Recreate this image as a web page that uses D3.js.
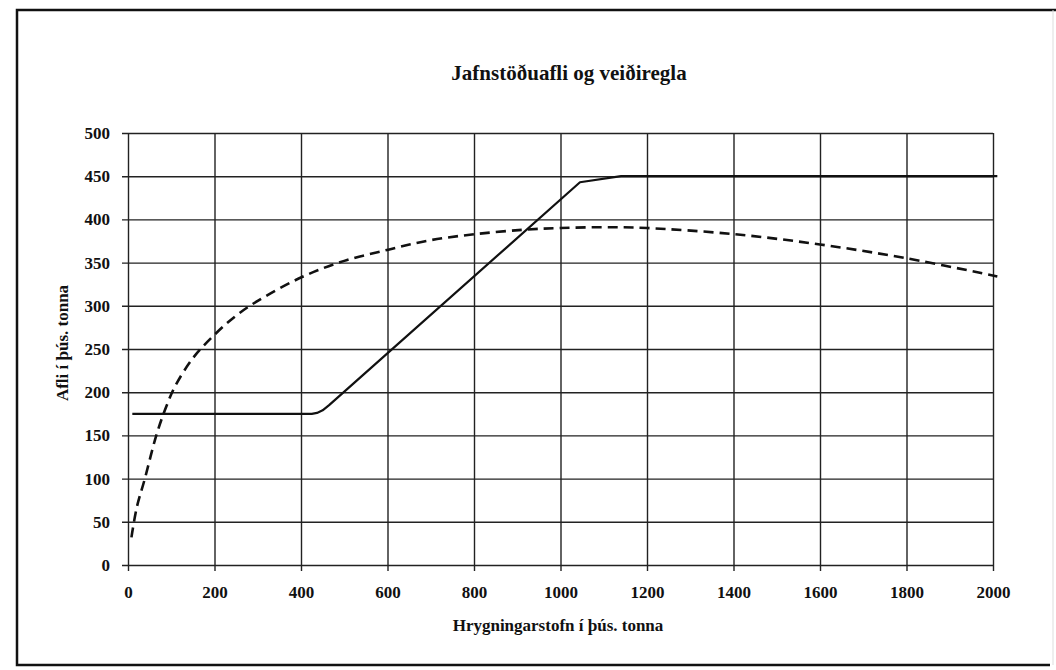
<!DOCTYPE html>
<html>
<head>
<meta charset="utf-8">
<script src="https://cdn.jsdelivr.net/npm/d3@7"></script>
<style>
  html, body { margin: 0; padding: 0; background: #fff; }
  svg { display: block; }
  text { font-family: "Liberation Serif", "Times New Roman", serif; font-weight: bold; fill: #111; }
</style>
</head>
<body>
<svg id="chart" width="1056" height="670"></svg>
<script>
// ---- data ----
const title = "Jafnstöðuafli og veiðiregla";
const xTitle = "Hrygningarstofn í þús. tonna";
const yTitle = "Afli í þús. tonna";
const xTicks = [0, 200, 400, 600, 800, 1000, 1200, 1400, 1600, 1800, 2000];
const yTicks = [0, 50, 100, 150, 200, 250, 300, 350, 400, 450, 500];

// harvest control rule (solid)
const ruleX = [10, 425, 437, 450, 465, 1045, 1140, 2010];
const ruleY = [175, 175, 176, 179, 185, 443, 450, 450];

// equilibrium catch (dashed)
const eqX = [8, 20, 39, 66, 89, 109, 151, 201, 251, 301, 401, 500, 602, 700, 804, 913, 1000, 1100, 1200, 1400, 1600, 1800, 2010];
const eqY = [32, 66, 100, 151, 184, 207, 240, 267, 289, 306, 333, 352, 365, 376, 383, 388, 390, 391, 390, 383, 371, 355, 334];

// ---- layout ----
const svg = d3.select("#chart");
const x = d3.scaleLinear().domain([0, 2000]).range([128, 993]);
const y = d3.scaleLinear().domain([0, 500]).range([565, 133]);
const ext = 6;

// outer frame
svg.append("path")
  .attr("d", "M1056,10 L17,10 L17,665 L1050,665")
  .attr("fill", "none").attr("stroke", "#111").attr("stroke-width", 2.5);
svg.append("line").attr("x1", 1053).attr("x2", 1053).attr("y1", 10).attr("y2", 665)
  .attr("stroke", "#ddd").attr("stroke-width", 1);

// vertical grid + x tick labels
const gx = svg.append("g")
  .attr("transform", `translate(0,${y(0) + ext})`)
  .call(d3.axisBottom(x).tickValues(xTicks).tickSize(-(y(0) - y(500) + ext)).tickPadding(15).tickFormat(d3.format("d")));
gx.select(".domain").remove();
gx.selectAll(".tick line").attr("stroke", "#222").attr("stroke-width", 1.4);
gx.selectAll(".tick text").attr("font-size", 17).attr("fill", "#111")
  .style("font-family", '"Liberation Serif", serif').style("font-weight", "bold");

// horizontal grid + y tick labels
const gy = svg.append("g")
  .attr("transform", `translate(${x(0) - ext},0)`)
  .call(d3.axisLeft(y).tickValues(yTicks).tickSize(-(x(2000) - x(0) + ext)).tickPadding(12).tickFormat(d3.format("d")));
gy.select(".domain").remove();
gy.selectAll(".tick line").attr("stroke", "#222").attr("stroke-width", 1.4);
gy.selectAll(".tick text").attr("font-size", 17).attr("fill", "#111")
  .style("font-family", '"Liberation Serif", serif').style("font-weight", "bold");

// lines
const ruleData = ruleX.map((v, i) => [v, ruleY[i]]);
const eqData = eqX.map((v, i) => [v, eqY[i]]);

svg.append("path")
  .datum(ruleData)
  .attr("fill", "none").attr("stroke", "#111").attr("stroke-width", 2.2)
  .attr("stroke-linejoin", "round")
  .attr("d", d3.line().x(d => x(d[0])).y(d => y(d[1])));

svg.append("path")
  .datum(eqData)
  .attr("fill", "none").attr("stroke", "#111").attr("stroke-width", 2.6)
  .attr("stroke-dasharray", "10,6")
  .attr("d", d3.line().x(d => x(d[0])).y(d => y(d[1])).curve(d3.curveCatmullRom.alpha(0.5)));

// titles
svg.append("text").attr("x", 569).attr("y", 80).attr("text-anchor", "middle")
  .attr("font-size", 21).text(title);
svg.append("text").attr("x", 558).attr("y", 631).attr("text-anchor", "middle")
  .attr("font-size", 17).text(xTitle);
svg.append("text").attr("transform", "translate(68,343) rotate(-90)").attr("text-anchor", "middle")
  .attr("font-size", 17).text(yTitle);
</script>
</body>
</html>
